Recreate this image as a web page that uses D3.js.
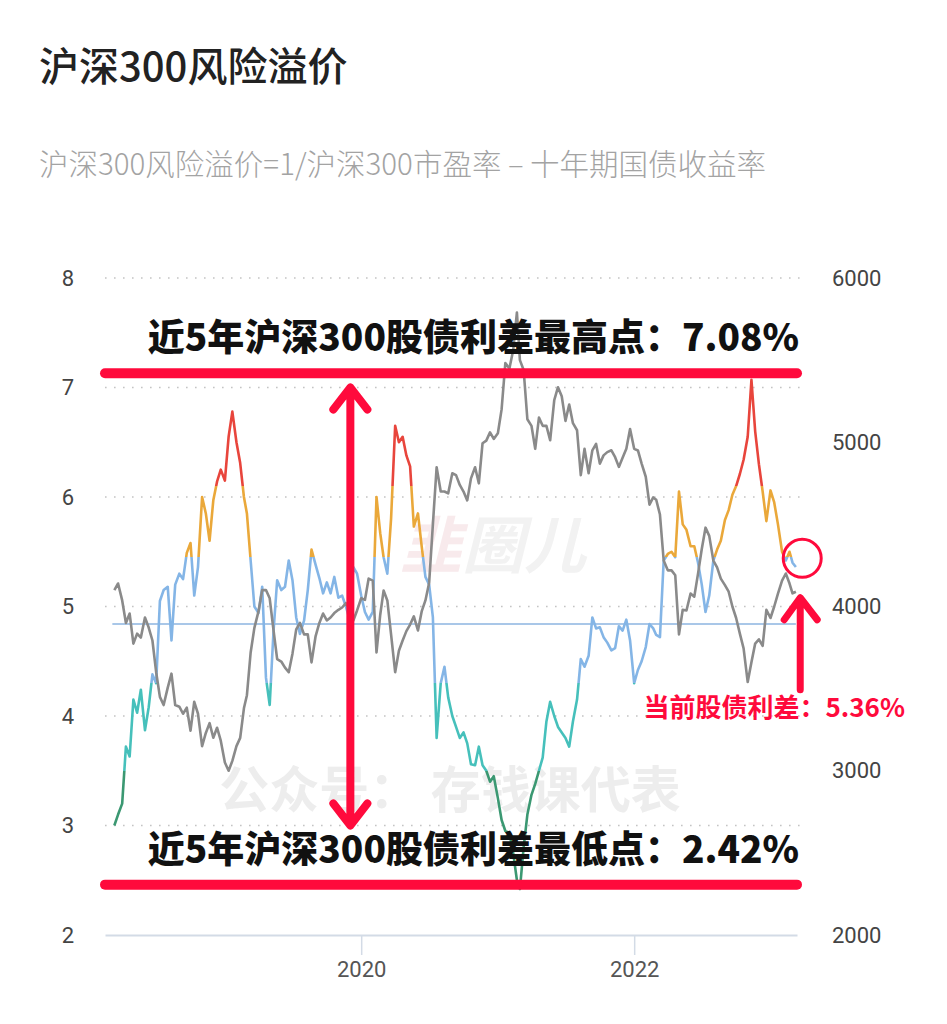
<!DOCTYPE html>
<html>
<head>
<meta charset="utf-8">
<script src="https://cdn.jsdelivr.net/npm/d3@7"></script>
<style>
body { margin:0; background:#fff; }
text { font-family:"Noto Sans CJK SC","Noto Sans",sans-serif; }
</style>
</head>
<body>
<svg id="chart" width="947" height="1024"></svg>
<script>
var dates = [
 "2018-03-11","2018-03-21","2018-04-01","2018-04-11","2018-04-21","2018-05-01","2018-05-11","2018-05-21","2018-06-01","2018-06-11","2018-06-21","2018-07-01","2018-07-11","2018-07-21","2018-08-01","2018-08-11","2018-08-21","2018-09-01","2018-09-11","2018-09-21","2018-10-01","2018-10-11","2018-10-21","2018-11-01","2018-11-11","2018-11-21","2018-12-01","2018-12-11","2018-12-21",
 "2019-01-01","2019-01-11","2019-01-21","2019-02-01","2019-02-11","2019-02-21","2019-03-01","2019-03-11","2019-03-21","2019-04-01","2019-04-11","2019-04-21","2019-05-01","2019-05-11","2019-05-21","2019-06-01","2019-06-11","2019-06-21","2019-07-01","2019-07-11","2019-07-21","2019-08-01","2019-08-11","2019-08-21","2019-09-01","2019-09-11","2019-09-21","2019-10-01","2019-10-11","2019-10-21","2019-11-01","2019-11-11","2019-11-21","2019-12-01","2019-12-11","2019-12-21",
 "2020-01-01","2020-01-11","2020-01-21","2020-02-01","2020-02-11","2020-02-21","2020-03-01","2020-03-11","2020-03-21","2020-04-01","2020-04-11","2020-04-21","2020-05-01","2020-05-11","2020-05-21","2020-06-01","2020-06-11","2020-06-21","2020-07-01","2020-07-11","2020-07-21","2020-08-01","2020-08-11","2020-08-21","2020-09-01","2020-09-11","2020-09-21","2020-10-01","2020-10-11","2020-10-21","2020-11-01","2020-11-11","2020-11-21","2020-12-01","2020-12-11","2020-12-21",
 "2021-01-01","2021-01-11","2021-01-21","2021-02-01","2021-02-11","2021-02-21","2021-03-01","2021-03-11","2021-03-21","2021-04-01","2021-04-11","2021-04-21","2021-05-01","2021-05-11","2021-05-21","2021-06-01","2021-06-11","2021-06-21","2021-07-01","2021-07-11","2021-07-21","2021-08-01","2021-08-11","2021-08-21","2021-09-01","2021-09-11","2021-09-21","2021-10-01","2021-10-11","2021-10-21","2021-11-01","2021-11-11","2021-11-21","2021-12-01","2021-12-11","2021-12-21",
 "2022-01-01","2022-01-11","2022-01-21","2022-02-01","2022-02-11","2022-02-21","2022-03-01","2022-03-11","2022-03-21","2022-04-01","2022-04-11","2022-04-21","2022-05-01","2022-05-11","2022-05-21","2022-06-01","2022-06-11","2022-06-21","2022-07-01","2022-07-11","2022-07-21","2022-08-01","2022-08-11","2022-08-21","2022-09-01","2022-09-11","2022-09-21","2022-10-01","2022-10-11","2022-10-21","2022-11-01","2022-11-11","2022-11-21","2022-12-01","2022-12-11","2022-12-21",
 "2023-01-01","2023-01-11","2023-01-21","2023-02-01","2023-02-11","2023-02-21","2023-03-01","2023-03-10"
];
// 风险溢价 (%)
var premium = [
 3.0,3.1,3.2,3.72,3.63,4.15,4.03,4.24,3.87,4.08,4.38,4.3,5.05,5.15,5.18,4.69,5.2,5.3,5.25,5.49,5.58,5.1,5.36,6.0,5.85,5.6,5.97,6.14,6.25,
 6.15,6.55,6.78,6.5,6.31,6.0,5.85,5.42,5.0,4.94,5.18,4.35,4.1,4.76,5.24,5.15,5.18,5.42,5.24,4.9,4.75,4.87,5.15,5.52,5.38,5.26,5.12,5.22,5.12,5.27,5.08,5.1,5.0,4.88,5.36,5.3,
 5.1,4.95,4.88,4.95,6.0,5.67,5.45,5.3,5.8,6.65,6.5,6.55,6.38,6.28,5.73,5.85,5.55,5.27,5.2,4.9,3.8,4.3,4.45,4.17,4.0,3.9,3.8,3.85,3.75,3.56,3.55,3.72,3.55,3.5,3.4,3.45,
 3.25,3.05,2.95,2.93,2.75,2.5,2.42,2.8,3.1,3.28,3.38,3.5,3.62,3.95,4.13,4.0,3.9,3.85,3.8,3.72,3.95,4.15,4.52,4.45,4.55,4.9,4.8,4.81,4.72,4.67,4.6,4.62,4.82,4.78,4.88,4.69,
 4.3,4.42,4.5,4.63,4.84,4.8,4.74,4.72,5.42,5.48,5.5,5.45,6.05,5.75,5.7,5.55,5.55,5.4,5.2,4.95,5.1,5.42,5.52,5.6,5.79,5.88,6.02,6.1,6.21,6.34,6.55,7.07,6.6,6.3,6.05,5.78,
 6.06,5.95,5.75,5.5,5.42,5.5,5.4,5.36
];
// 沪深300指数
var csi300 = [
 4100,4140,4037,3900,3957,3774,3835,3811,3933,3872,3793,3600,3450,3400,3506,3591,3400,3390,3347,3384,3244,3420,3347,3150,3230,3290,3201,3262,3183,
 3050,3000,3060,3150,3200,3380,3460,3720,3870,3970,4100,4100,4050,3860,3680,3665,3628,3600,3713,3860,3900,3830,3830,3660,3820,3900,3957,3915,3933,3960,3980,3994,4020,3985,3915,3976,
 4050,4040,4170,4158,3720,3950,4097,4037,3830,3600,3731,3793,3850,3890,3940,3854,3970,4037,4145,4500,4848,4700,4700,4689,4811,4800,4740,4700,4646,4780,4848,4750,4994,5010,5060,5020,
 5055,5200,5482,5450,5560,5790,5500,5440,5140,5100,4960,5150,5100,5100,5012,5256,5335,5280,5130,5230,5116,5073,4800,4960,4811,4951,4990,4870,4920,4940,4951,4909,4850,4905,4960,5080,
 4960,4950,4870,4790,4620,4664,4650,4560,4280,4220,4220,4190,3830,3980,3976,4079,4060,4200,4350,4480,4430,4280,4238,4170,4130,4090,4000,3930,3835,3745,3540,3660,3774,3800,3760,3980,
 3930,4000,4079,4158,4201,4140,4080,4090
];
var leftTicks = [2,3,4,5,6,7,8];
var rightTicks = [2000,3000,4000,5000,6000];
var yearTicks = ["2020-01-01","2022-01-01"];
var bandCuts = [6.1,5.45,4.3,3.5];
var bandColors = ["#e8453c","#eaa83a","#84b5e6","#46c0bb","#3b9872"];
var premiumMean = 4.84;
var highText = "近5年沪深300股债利差最高点：7.08%";
var lowText = "近5年沪深300股债利差最低点：2.42%";
var nowText = "当前股债利差：5.36%";
var highLevel = 7.13, lowLevel = 2.46;
var arrowDate = "2019-12-03", arrowSpan = [7.0, 3.0];
var nowDate = "2023-03-27", nowCircle = 5.44, nowArrow = [5.08, 4.24];

var parse = d3.timeParse("%Y-%m-%d");
var red = "#ff0a3c";
var svg = d3.select("#chart");

var x = d3.scaleTime([parse("2018-02-14"), parse("2023-03-13")], [105, 797]);
var yL = d3.scaleLinear([2, 8], [935, 278]);
var yR = d3.scaleLinear([2000, 6000], [935, 278]);

svg.append("text").attr("x", 39).attr("y", 81)
    .style("font-size", "40px").style("font-weight", 500).style("fill", "#222")
    .text("沪深300风险溢价");
svg.append("text").attr("x", 39).attr("y", 175)
    .style("font-size", "29.5px").style("font-weight", 300).style("fill", "#a3a3a3")
    .text("沪深300风险溢价=1/沪深300市盈率 – 十年期国债收益率");

// watermarks
svg.append("text").attr("x", 400).attr("y", 568)
    .style("font-size", "62px").style("font-weight", 700).style("font-style", "italic")
    .style("fill", "#f2f2f2")
    .html('<tspan style="fill:#f8eaec">韭</tspan>圈儿');
svg.append("text").attr("x", 450).attr("y", 808).attr("text-anchor", "middle")
    .style("font-size", "50px").style("font-weight", 700).style("fill", "#ededed")
    .text("公众号： 存钱课代表");

svg.append("g").selectAll("line")
    .data(leftTicks.filter(d => d > 2))
    .join("line")
    .attr("x1", 105).attr("x2", 800)
    .attr("y1", d => yL(d)).attr("y2", d => yL(d))
    .style("stroke", "#c4c4c4").style("stroke-width", 1.6)
    .style("stroke-dasharray", "1.6,7.4");

var xAxis = svg.append("g")
    .attr("transform", "translate(0," + yL(2) + ")")
    .call(d3.axisBottom(x)
          .tickValues(yearTicks.map(parse))
          .tickFormat(d3.timeFormat("%Y"))
          .tickSize(20).tickSizeOuter(0).tickPadding(6));
xAxis.select(".domain").style("stroke", "#d3dbe6").style("stroke-width", 2);
xAxis.selectAll(".tick line").style("stroke", "#d3dbe6").style("stroke-width", 1.5);
xAxis.selectAll(".tick text").style("font-family", "Roboto, sans-serif")
    .style("font-size", "22px").style("fill", "#555");

var leftAxis = svg.append("g")
    .attr("transform", "translate(74,0)")
    .call(d3.axisLeft(yL).tickValues(leftTicks).tickFormat(d => d).tickSize(0).tickPadding(0));
var rightAxis = svg.append("g")
    .attr("transform", "translate(832,0)")
    .call(d3.axisRight(yR).tickValues(rightTicks).tickFormat(d => d).tickSize(0).tickPadding(0));
[leftAxis, rightAxis].forEach(a => {
    a.select(".domain").remove();
    a.selectAll("text").style("font-family", "Roboto, sans-serif")
        .style("font-size", "22px").style("fill", "#444");
});

// gradient colouring by value band
var edges = [8].concat(bandCuts).concat([2]);
var stops = [];
bandColors.forEach((c, i) => {
    stops.push({off: (yL(edges[i]) - yL(8)) / (yL(2) - yL(8)), color: c});
    stops.push({off: (yL(edges[i+1]) - yL(8)) / (yL(2) - yL(8)), color: c});
});
svg.append("defs").append("linearGradient")
    .attr("id", "bands").attr("gradientUnits", "userSpaceOnUse")
    .attr("x1", 0).attr("x2", 0).attr("y1", yL(8)).attr("y2", yL(2))
    .selectAll("stop").data(stops).join("stop")
    .attr("offset", d => d.off).attr("stop-color", d => d.color);

var rows = dates.map((d, i) => ({date: parse(d), p: premium[i], idx: csi300[i]}));

svg.append("line")
    .attr("x1", x(rows[0].date) - 2).attr("x2", x(rows[rows.length-1].date))
    .attr("y1", yL(premiumMean)).attr("y2", yL(premiumMean))
    .style("stroke", "#8db5e0").style("stroke-width", 1.6);

svg.append("path").datum(rows)
    .attr("d", d3.line().x(d => x(d.date)).y(d => yL(d.p)))
    .style("fill", "none").style("stroke", "url(#bands)")
    .style("stroke-width", 2.6).style("stroke-linejoin", "round");

svg.append("path").datum(rows)
    .attr("d", d3.line().x(d => x(d.date)).y(d => yR(d.idx)))
    .style("fill", "none").style("stroke", "#8a8a8a")
    .style("stroke-width", 2.6).style("stroke-linejoin", "round");

// annotations
var notes = svg.append("g");
[[highLevel, highText], [lowLevel, lowText]].forEach(n => {
    notes.append("line")
        .attr("x1", 105).attr("x2", 797)
        .attr("y1", yL(n[0])).attr("y2", yL(n[0]))
        .style("stroke", red).style("stroke-width", 10).style("stroke-linecap", "round");
    notes.append("text")
        .attr("x", 799).attr("y", yL(n[0]) - 22).attr("text-anchor", "end")
        .style("font-size", "37px").style("font-weight", 900).style("fill", "#111")
        .text(n[1]);
});

var ax = x(parse(arrowDate));
var aTop = yL(arrowSpan[0]), aBot = yL(arrowSpan[1]);
notes.append("path")
    .attr("d", "M" + ax + "," + (aTop + 2) + "V" + (aBot - 2)
        + "M" + (ax - 17) + "," + (aTop + 22) + "L" + ax + "," + aTop + "L" + (ax + 17) + "," + (aTop + 22)
        + "M" + (ax - 17) + "," + (aBot - 22) + "L" + ax + "," + aBot + "L" + (ax + 17) + "," + (aBot - 22))
    .style("fill", "none").style("stroke", red).style("stroke-width", 8)
    .style("stroke-linecap", "round").style("stroke-linejoin", "round");

var nx = x(parse(nowDate));
notes.append("circle")
    .attr("cx", nx).attr("cy", yL(nowCircle)).attr("r", 19)
    .style("fill", "none").style("stroke", red).style("stroke-width", 3);
var uTop = yL(nowArrow[0]), uBot = yL(nowArrow[1]);
notes.append("path")
    .attr("d", "M" + (nx - 2) + "," + (uTop + 2) + "V" + uBot
        + "M" + (nx - 18) + "," + (uTop + 22) + "L" + (nx - 2) + "," + uTop + "L" + (nx + 15) + "," + (uTop + 22))
    .style("fill", "none").style("stroke", red).style("stroke-width", 7)
    .style("stroke-linecap", "round").style("stroke-linejoin", "round");
notes.append("text")
    .attr("x", 905).attr("y", uBot + 27).attr("text-anchor", "end")
    .style("font-size", "26px").style("font-weight", 700).style("fill", red)
    .text(nowText);
</script>
</body>
</html>
